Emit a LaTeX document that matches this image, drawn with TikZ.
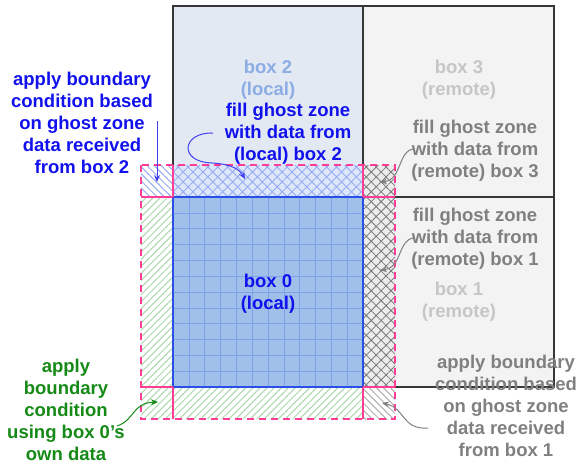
\documentclass[tikz,border=0pt]{standalone}
\usepackage{fontspec}
\setmainfont{Liberation Sans}
\usetikzlibrary{patterns.meta,arrows.meta}
\definecolor{boxzero}{RGB}{160,192,234}
\definecolor{gridc}{RGB}{125,162,236}
\definecolor{boxzeroline}{RGB}{40,80,230}
\definecolor{boxtwo}{RGB}{226,233,243}
\definecolor{boxrem}{RGB}{243,243,243}
\definecolor{boxdark}{RGB}{55,55,55}
\definecolor{tblue}{RGB}{17,17,238}
\definecolor{tlblue}{RGB}{140,172,228}
\definecolor{tlgray}{RGB}{198,198,198}
\definecolor{tgray}{RGB}{128,128,128}
\definecolor{tgreen}{RGB}{22,138,22}
\definecolor{ghostpink}{RGB}{255,60,150}
\definecolor{hblue}{RGB}{150,172,242}
\definecolor{hgray}{RGB}{120,120,120}
\definecolor{hlgray}{RGB}{175,175,175}
\definecolor{hgreen}{RGB}{170,216,170}
\definecolor{topbg}{RGB}{222,230,250}
\definecolor{rightbg}{RGB}{236,236,236}
\begin{document}
\begin{tikzpicture}[x=1pt,y=-1pt,
  lbl/.style={font=\fontsize{18.5}{22}\selectfont\bfseries, align=center, inner sep=0pt},
  boxline/.style={draw=boxdark, line width=1.1pt},
  pinkline/.style={draw=ghostpink, line width=1.8pt},
  arr/.style={-{Stealth[length=7pt,width=6pt]}, line width=1pt}]
\useasboundingbox (0,0) rectangle (579,464);
% boxes
\fill[boxtwo] (173,6) rectangle (363,197);
\fill[boxrem] (363,6) rectangle (554,387);
\draw[boxline] (173,197) -- (173,6) -- (554,6) -- (554,387) -- (363,387);
\draw[boxline] (363,6) -- (363,387);
\draw[boxline] (363,197) -- (554,197);
% ghost regions
\fill[topbg] (173,165) rectangle (363,197);
\fill[pattern={Hatch[angle=45,distance=7pt,line width=0.9pt]}, pattern color=hblue] (173,165) rectangle (363,197);
\fill[rightbg] (363,165) rectangle (395,387);
\fill[pattern={Hatch[angle=45,distance=7pt,line width=0.8pt]}, pattern color=hgray] (363,165) rectangle (395,387);
\fill[white] (141,165) rectangle (173,197);
\fill[pattern={Lines[angle=-45,distance=5pt,line width=1pt]}, pattern color=hblue] (141,165) rectangle (173,197);
\fill[white] (363,387) rectangle (395,419);
\fill[pattern={Lines[angle=-45,distance=5pt,line width=1pt]}, pattern color=hlgray] (363,387) rectangle (395,419);
\fill[white] (141,197) rectangle (173,419) (173,387) rectangle (363,419);
\fill[pattern={Lines[angle=45,distance=5pt,line width=1pt]}, pattern color=hgreen] (141,197) rectangle (173,419) (173,387) rectangle (363,419);
% box 0
\fill[boxzero] (173,197) rectangle (363,387);
\foreach \i in {1,...,11} {
  \draw[gridc, line width=0.6pt] ({173+\i*190/12},197) -- ({173+\i*190/12},387);
  \draw[gridc, line width=0.6pt] (173,{197+\i*190/12}) -- (363,{197+\i*190/12});
}
\draw[boxzeroline, line width=1.5pt] (173,197) rectangle (363,387);
% pink lines
\draw[pinkline] (173,165) -- (173,197) (363,165) -- (363,197);
\draw[pinkline] (141,197) -- (173,197) (363,197) -- (395,197);
\draw[pinkline] (141,387) -- (173,387) (363,387) -- (395,387);
\draw[pinkline] (173,387) -- (173,419) (363,387) -- (363,419);
\draw[pinkline, dash pattern=on 7pt off 5pt] (141,165) rectangle (395,419);
% labels
\node[lbl, text=tlblue] (b2) at (268,80) {box 2\\(local)};
\node[lbl, text=tlgray] (b3) at (459,80) {box 3\\(remote)};
\node[lbl, text=tlgray] (b1) at (459,302) {box 1\\(remote)};
\node[lbl, text=tblue] (b0) at (268,294) {box 0\\(local)};
\node[lbl, text=tblue] (fill2) at (288,134) {fill ghost zone\\with data from\\(local) box 2};
\node[lbl, text=tblue] (bc2) at (82,123) {apply boundary\\condition based\\on ghost zone\\data received\\from box 2};
\node[lbl, text=tgray] (fill3) at (475,151) {fill ghost zone\\with data from\\(remote) box 3};
\node[lbl, text=tgray] (fill1) at (475,239) {fill ghost zone\\with data from\\(remote) box 1};
\node[lbl, text=tgreen] (bc0) at (66,410) {apply\\boundary\\condition\\using box 0’s\\own data};
\node[lbl, text=tgray] (bc1) at (506,406) {apply boundary\\condition based\\on ghost zone\\data received\\from box 1};
% arrow endpoints
\coordinate (a1s) at (157,121);
\coordinate (a1e) at (157,182);
\coordinate (a2s) at (213,133);
\coordinate (a2e) at (245,179);
\coordinate (a3s) at (414,149);
\coordinate (a3e) at (380,182);
\coordinate (a4s) at (414,238);
\coordinate (a4e) at (380,270);
\coordinate (a5s) at (428,428);
\coordinate (a5e) at (382,403);
\coordinate (a6s) at (117,426);
\coordinate (a6e) at (158,402);
\draw[arr, draw=tblue!80!white] (a1s) -- (a1e);
\draw[arr, draw=tblue!80!white] (a2s) .. controls (182,132) and (178,162) .. (212,163) .. controls (232,164) and (240,170) .. (a2e);
\draw[arr, draw=tgray] (a3s) .. controls (398,150) and (402,180) .. (a3e);
\draw[arr, draw=tgray] (a4s) .. controls (398,239) and (402,268) .. (a4e);
\draw[arr, draw=tgray] (a5s) .. controls (402,430) and (405,408) .. (a5e);
\draw[arr, draw=tgreen] (a6s) .. controls (135,420) and (132,403) .. (a6e);
\end{tikzpicture}
\end{document}
